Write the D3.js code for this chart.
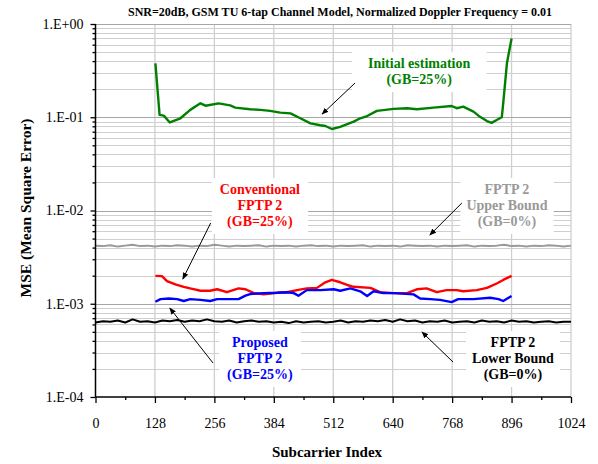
<!DOCTYPE html>
<html><head><meta charset="utf-8">
<script src="https://cdn.jsdelivr.net/npm/d3@7"></script>
<style>
body{margin:0;background:#fff}
svg{display:block}
</style>
</head><body>
<svg id="chart" width="598" height="464"></svg>
<script>
// ---------- data ----------
const titleText = "SNR=20dB, GSM TU 6-tap Channel Model, Normalized Doppler Frequency = 0.01";
const xTicks = [0,128,256,384,512,640,768,896,1024];
const xTickLabels = ["0","128","256","384","512","640","768","896","1024"];
const yTicks = [1e-4,1e-3,1e-2,1e-1,1];
const yTickLabels = ["1.E-04","1.E-03","1.E-02","1.E-01","1.E+00"];

const initialX = [129,138,147,160,183,204,226,237,265,290,301,333,355,376,398,420,441,463,484,495,509,527,556,570,585,606,642,671,692,728,767,778,792,814,828,843,853,864,875,878,886,896];
const initialMSE = [0.379,0.106,0.104,0.088,0.0975,0.12,0.141,0.133,0.141,0.134,0.127,0.122,0.12,0.117,0.112,0.11,0.0975,0.086,0.082,0.0806,0.0748,0.079,0.0897,0.0975,0.103,0.117,0.123,0.125,0.122,0.127,0.132,0.125,0.13,0.115,0.101,0.091,0.087,0.0935,0.1,0.141,0.379,0.70];

const convX = [129,143,154,172,190,204,226,247,262,283,308,323,341,362,391,412,434,455,477,495,509,527,542,556,592,613,642,671,692,713,735,756,778,792,821,843,864,878,896];
const convMSE = [0.00199,0.00198,0.00175,0.00161,0.00152,0.00146,0.00138,0.00138,0.00143,0.00133,0.00146,0.00143,0.0013,0.00126,0.00131,0.00133,0.0014,0.00146,0.00148,0.0017,0.0018,0.0017,0.00159,0.00152,0.00148,0.00133,0.0013,0.0013,0.00143,0.00146,0.00133,0.0014,0.0014,0.00136,0.0014,0.00148,0.00165,0.0018,0.00199];

const propX = [129,140,158,176,190,204,226,247,262,283,308,323,333,362,391,412,427,437,455,484,513,527,549,570,585,599,620,642,685,699,721,742,767,781,814,850,868,878,896];
const propMSE = [0.00105,0.00112,0.00114,0.00112,0.00107,0.00112,0.0011,0.00107,0.00112,0.00112,0.00112,0.00122,0.00127,0.0013,0.00131,0.00133,0.0013,0.00122,0.0014,0.0014,0.00143,0.00138,0.00146,0.00136,0.00121,0.00136,0.0013,0.0013,0.00126,0.00114,0.00112,0.0011,0.00104,0.00112,0.00112,0.00116,0.00112,0.00107,0.00121];

// FPTP 2 bounds, sampled every 16 subcarriers from 0 to 1024
const upperMSE = [4.2e-3,4.15e-3,4.25e-3,4.1e-3,4.2e-3,4.3e-3,4.15e-3,4.2e-3,4.1e-3,4.2e-3,4.15e-3,4.25e-3,4.2e-3,4.1e-3,4.2e-3,4.15e-3,4.3e-3,4.2e-3,4.1e-3,4.2e-3,4.15e-3,4.2e-3,4.25e-3,4.1e-3,4.2e-3,4.15e-3,4.2e-3,4.1e-3,4.2e-3,4.25e-3,4.15e-3,4.2e-3,4.1e-3,4.2e-3,4.15e-3,4.2e-3,4.25e-3,4.1e-3,4.2e-3,4.15e-3,4.2e-3,4.1e-3,4.25e-3,4.2e-3,4.15e-3,4.2e-3,4.1e-3,4.2e-3,4.15e-3,4.2e-3,4.25e-3,4.1e-3,4.2e-3,4.15e-3,4.2e-3,4.3e-3,4.15e-3,4.2e-3,4.1e-3,4.2e-3,4.15e-3,4.25e-3,4.2e-3,4.1e-3,4.2e-3];
const lowerMSE = [6.3e-4,6.5e-4,6.4e-4,6.6e-4,6.3e-4,6.8e-4,6.4e-4,6.5e-4,6.3e-4,6.6e-4,6.5e-4,6.7e-4,6.4e-4,6.6e-4,6.5e-4,6.8e-4,6.5e-4,6.4e-4,6.6e-4,6.3e-4,6.5e-4,6.6e-4,6.4e-4,6.5e-4,6.3e-4,6.4e-4,6.2e-4,6.5e-4,6.3e-4,6.4e-4,6.5e-4,6.3e-4,6.4e-4,6.6e-4,6.3e-4,6.5e-4,6.4e-4,6.6e-4,6.5e-4,6.7e-4,6.4e-4,6.8e-4,6.5e-4,6.6e-4,6.3e-4,6.5e-4,6.4e-4,6.6e-4,6.3e-4,6.4e-4,6.5e-4,6.3e-4,6.6e-4,6.4e-4,6.5e-4,6.3e-4,6.6e-4,6.4e-4,6.5e-4,6.3e-4,6.4e-4,6.5e-4,6.3e-4,6.4e-4,6.4e-4];

// annotations: text lines, anchor (subcarrier, MSE), arrow from/to (subcarrier, MSE)
const annotations = [
  {lines:["Initial estimation","(GB=25%)"], color:"#008000", k:697, v:0.337, from:[559,0.233], to:[488,0.108], padX:16},
  {lines:["Conventional","FPTP 2","(GB=25%)"], color:"#ff0000", k:354, v:0.01503, from:[248,0.00734], to:[188,0.00184], padX:8},
  {lines:["FPTP 2","Upper Bound","(GB=0%)"], color:"#999999", k:886, v:0.01503, from:[789,0.01203], to:[720,0.005462], padX:6},
  {lines:["Proposed","FPTP 2","(GB=25%)"], color:"#0000ff", k:354, v:3.437e-4, from:[253,2.317e-4], to:[160,9.0e-4], padX:8},
  {lines:["FPTP 2","Lower Bound","(GB=0%)"], color:"#000000", k:899, v:3.437e-4, from:[770,2.372e-4], to:[703,4.977e-4], padX:6}
];

// ---------- chart ----------
const FONT = '"Liberation Serif", "Times New Roman", serif';
const svg = d3.select("#chart").style("font-family", FONT);
const x = d3.scaleLinear().domain([0,1024]).range([95.5,571]);
const y = d3.scaleLog().domain([1e-4,1]).range([397,24]);

const minorY = [];
for (let e=-4; e<0; e++) for (let m=2; m<=9; m++) minorY.push(m*Math.pow(10,e));

const grid = svg.append("g");
grid.selectAll(".gy").data(minorY).join("line")
  .attr("x1",x(0)).attr("x2",x(1024)).attr("y1",d=>Math.round(y(d))+0.5).attr("y2",d=>Math.round(y(d))+0.5)
  .attr("stroke","#cfcfcf").attr("stroke-width",1);
grid.selectAll(".gx").data(xTicks.slice(1)).join("line")
  .attr("x1",d=>x(d)).attr("x2",d=>x(d)).attr("y1",y(1)).attr("y2",y(1e-4))
  .attr("stroke","#cfcfcf").attr("stroke-width",1.3);
grid.selectAll(".gd").data(yTicks.slice(1)).join("line")
  .attr("x1",x(0)).attr("x2",x(1024)).attr("y1",d=>Math.round(y(d))+0.5).attr("y2",d=>Math.round(y(d))+0.5)
  .attr("stroke","#a6a6a6").attr("stroke-width",1);

// annotation boxes (white) first
const annG = svg.append("g");
annotations.forEach(a=>{
  const g = annG.append("g");
  const t = g.append("text").style("font-family",FONT).attr("font-weight","bold").attr("font-size",14)
    .attr("fill",a.color).attr("text-anchor","middle");
  a.lines.forEach((l,i)=>t.append("tspan").attr("x",x(a.k)).attr("y",y(a.v)+i*16).text(l));
  const bb = t.node().getBBox();
  g.insert("rect","text").attr("x",bb.x-a.padX).attr("y",bb.y-4).attr("width",bb.width+2*a.padX).attr("height",bb.height+8)
    .attr("fill","#fff");
});

// series
const line = d3.line().x(d=>x(d[0])).y(d=>y(d[1]));
const step16 = i => i*16;
const series = [
  {xs: upperMSE.map((d,i)=>step16(i)), ys: upperMSE, color:"#999999", w:2},
  {xs: lowerMSE.map((d,i)=>step16(i)), ys: lowerMSE, color:"#000000", w:2},
  {xs: convX, ys: convMSE, color:"#ff0000", w:2.4},
  {xs: propX, ys: propMSE, color:"#0000ff", w:2.4},
  {xs: initialX, ys: initialMSE, color:"#008000", w:2.4}
];
series.forEach(s=>{
  svg.append("path").datum(s.xs.map((k,i)=>[k,s.ys[i]]))
    .attr("d",line).attr("fill","none").attr("stroke",s.color).attr("stroke-width",s.w).attr("stroke-linejoin","round");
});

// arrows
const defs = svg.append("defs");
defs.append("marker").attr("id","ah").attr("viewBox","0 0 10 10").attr("refX",9).attr("refY",5)
  .attr("markerWidth",7).attr("markerHeight",7).attr("markerUnits","userSpaceOnUse").attr("orient","auto")
  .append("path").attr("d","M0,1 L10,5 L0,9 Z").attr("fill","#000");
annotations.forEach(a=>{
  svg.append("line").attr("x1",x(a.from[0])).attr("y1",y(a.from[1])).attr("x2",x(a.to[0])).attr("y2",y(a.to[1]))
    .attr("stroke","#000").attr("stroke-width",1).attr("marker-end","url(#ah)");
});

// axes
const yAxis = svg.append("g").attr("transform",`translate(${x(0)},0)`)
  .call(d3.axisLeft(y).tickValues(yTicks).tickFormat((d,i)=>yTickLabels[i]).tickSize(5).tickPadding(7));
svg.append("g").attr("transform",`translate(${x(0)},0)`)
  .call(d3.axisLeft(y).tickValues(minorY).tickFormat("").tickSize(3))
  .call(g=>g.select(".domain").remove());
const xAxis = svg.append("g").attr("transform",`translate(0,${y(1e-4)})`)
  .call(d3.axisBottom(x).tickValues(xTicks).tickFormat((d,i)=>xTickLabels[i]).tickSize(6).tickPadding(15));
svg.append("g").attr("transform",`translate(0,${y(1e-4)})`)
  .call(d3.axisBottom(x).tickValues(xTicks.slice(0,-1).map(d=>d+64)).tickFormat("").tickSize(3))
  .call(g=>g.select(".domain").remove());
svg.selectAll(".domain").attr("stroke","#000").attr("stroke-width",1.5);
svg.selectAll(".tick line").attr("stroke","#000").attr("stroke-width",1.3);
svg.selectAll(".tick text").attr("font-size",14).attr("fill","#000");
xAxis.select(".domain").attr("d",`M${x(0)},0H${x(1024)}`);
yAxis.select(".domain").attr("d",`M0,${y(1e-4)}V${y(1)}`);

// titles
svg.append("text").attr("x",340).attr("y",16).attr("text-anchor","middle")
  .attr("font-weight","bold").attr("font-size",12).text(titleText);
svg.append("text").attr("x",327).attr("y",457).attr("text-anchor","middle")
  .attr("font-weight","bold").attr("font-size",15).text("Subcarrier Index");
svg.append("text").attr("transform","translate(31,208) rotate(-90)").attr("text-anchor","middle")
  .attr("font-weight","bold").attr("font-size",15.5).text("MSE (Mean Square Error)");

svg.selectAll("text").style("font-family", FONT);
</script>
</body></html>
